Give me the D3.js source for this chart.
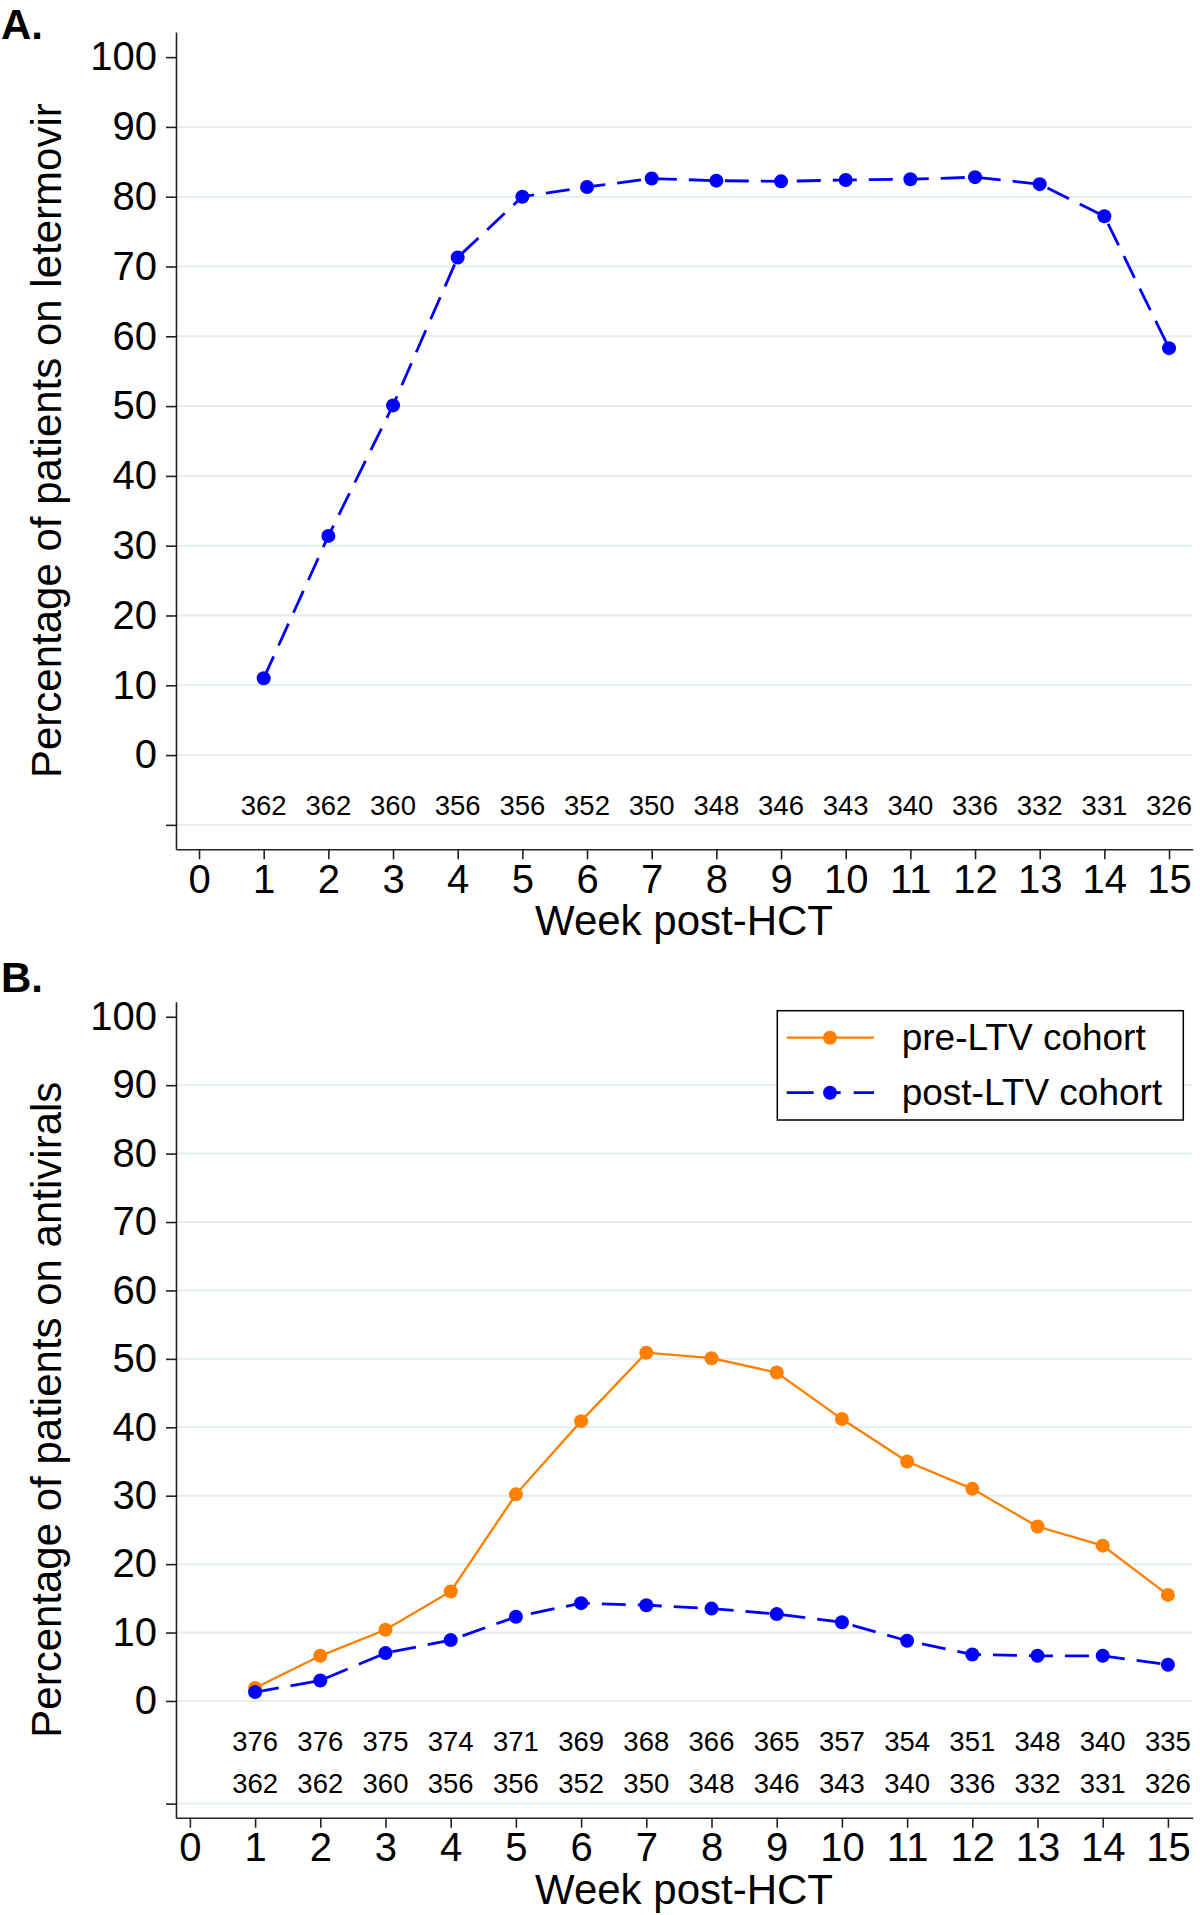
<!DOCTYPE html>
<html><head><meta charset="utf-8">
<script src="https://cdn.jsdelivr.net/npm/d3@7"></script>
<style>
html,body{margin:0;padding:0;background:#fff;}
text{font-family:"Liberation Sans",Arial,sans-serif;}
</style></head>
<body>
<svg id="c" width="1200" height="1915"></svg>
<script>
// ---------- data ----------
const weeks = [1,2,3,4,5,6,7,8,9,10,11,12,13,14,15];
const xTicks = [0,1,2,3,4,5,6,7,8,9,10,11,12,13,14,15];
const yTickLabels = [0,10,20,30,40,50,60,70,80,90,100];
const letermovirPct = [11.0,31.4,50.1,71.3,80.0,81.4,82.6,82.3,82.2,82.4,82.5,82.8,81.8,77.2,58.3];
const preLTVPct  = [1.9,6.6,10.4,16.0,30.2,40.9,50.9,50.1,48.0,41.2,35.0,31.0,25.5,22.7,15.5];
const postLTVPct = [1.3,3.0,7.0,8.9,12.3,14.3,14.0,13.5,12.7,11.5,8.8,6.8,6.6,6.6,5.3];
const atRiskPost = [362,362,360,356,356,352,350,348,346,343,340,336,332,331,326];
const atRiskPre  = [376,376,375,374,371,369,368,366,365,357,354,351,348,340,335];
const seriesNames = ["pre-LTV cohort","post-LTV cohort"];
const panelLabels = ["A.","B."];
const yTitles = ["Percentage of patients on letermovir","Percentage of patients on antivirals"];
const xTitle = "Week post-HCT";

const ORANGE = "#ff7f00", BLUE = "#0000ff", GRID = "#e4eef1", AX = "#222";
const DASH = "24,12";
const svg = d3.select("#c");

function panel(cfg){
  const g = svg.append("g");
  const x = d3.scaleLinear().domain(cfg.xDom).range([176, 1192.7]);
  const y = d3.scaleLinear().domain(cfg.yDom).range([cfg.yBottom, cfg.yTop]);
  const gridVals = yTickLabels.filter(v=>v<100).concat([cfg.lowTick]);
  g.selectAll("line.grid").data(gridVals).join("line")
    .attr("x1",176).attr("x2",1192.7)
    .attr("y1",d=>y(d)).attr("y2",d=>y(d))
    .attr("stroke",GRID).attr("stroke-width",2);
  const yAxis = d3.axisLeft(y).tickValues(yTickLabels.concat([cfg.lowTick]))
    .tickSize(10).tickSizeOuter(0).tickPadding(9)
    .tickFormat(d=> d<0 ? "" : d);
  const ya = g.append("g").attr("transform","translate(176,0)").call(yAxis);
  ya.selectAll("text").attr("font-size",40).attr("fill","#000")
    .attr("font-family","'Liberation Sans',Arial,sans-serif");
  ya.selectAll("line,path").attr("stroke",AX).attr("stroke-width",1.6);
  const xAxis = d3.axisBottom(x).tickValues(xTicks).tickSize(10).tickSizeOuter(0).tickPadding(5);
  const xa = g.append("g").attr("transform",`translate(0,${cfg.yBottom})`).call(xAxis);
  xa.selectAll("text").attr("font-size",40).attr("fill","#000")
    .attr("font-family","'Liberation Sans',Arial,sans-serif");
  xa.selectAll("line,path").attr("stroke",AX).attr("stroke-width",1.6);
  g.append("text").attr("x",684).attr("y",cfg.yBottom+86).attr("text-anchor","middle")
    .attr("font-size",42).text(xTitle);
  g.append("text").attr("transform",`translate(61,${(cfg.yTop+cfg.yBottom)/2}) rotate(-90)`)
    .attr("text-anchor","middle").attr("font-size",42).text(cfg.yTitle);
  g.append("text").attr("x",1).attr("y",cfg.labelY).attr("font-size",42)
    .attr("font-weight","bold").text(cfg.label);
  cfg.rows.forEach((row,ri)=>{
    g.selectAll(null).data(row).join("text")
      .attr("x",(d,i)=>x(weeks[i])).attr("y",y(0)+cfg.rowOffsets[ri])
      .attr("text-anchor","middle").attr("font-size",27.5).text(d=>d);
  });
  const line = d3.line().x((d,i)=>x(weeks[i])).y(d=>y(d));
  cfg.series.forEach(s=>{
    g.append("path").datum(s.values).attr("d",line).attr("fill","none")
      .attr("stroke",s.color).attr("stroke-width",s.dash?2.8:2.3)
      .attr("stroke-dasharray",s.dash?DASH:null);
    g.selectAll(null).data(s.values).join("circle")
      .attr("cx",(d,i)=>x(weeks[i])).attr("cy",d=>y(d)).attr("r",7).attr("fill",s.color);
  });
  return {x,y,g};
}

panel({
  xDom:[-0.356,15.366], yDom:[-13.5,103.6], yTop:32, yBottom:849.3, lowTick:-10,
  yTitle:yTitles[0], label:panelLabels[0], labelY:39,
  rows:[atRiskPost], rowOffsets:[60],
  series:[{values:letermovirPct,color:BLUE,dash:true}]
});

panel({
  xDom:[-0.213,15.38], yDom:[-17.06,102.2], yTop:1001.7, yBottom:1817.7, lowTick:-15,
  yTitle:yTitles[1], label:panelLabels[1], labelY:992,
  rows:[atRiskPre,atRiskPost], rowOffsets:[50,92],
  series:[{values:preLTVPct,color:ORANGE,dash:false},{values:postLTVPct,color:BLUE,dash:true}]
});

const lg = svg.append("g");
lg.append("rect").attr("x",777.3).attr("y",1010.7).attr("width",406).attr("height",109.3)
  .attr("fill","#fff").attr("stroke","#000").attr("stroke-width",1.5);
const legendItems = [{name:seriesNames[0],color:ORANGE,dash:false,y:1037.7},
                     {name:seriesNames[1],color:BLUE,dash:true,y:1092.7}];
legendItems.forEach(it=>{
  lg.append("line").attr("x1",786.7).attr("x2",874).attr("y1",it.y).attr("y2",it.y)
    .attr("stroke",it.color).attr("stroke-width",it.dash?2.8:2.3)
    .attr("stroke-dasharray",it.dash?"27,10,0,4,13,13":null);
  lg.append("circle").attr("cx",830).attr("cy",it.y).attr("r",7).attr("fill",it.color);
  lg.append("text").attr("x",901.7).attr("y",it.y+12.5).attr("font-size",37).text(it.name);
});
</script>
</body></html>
